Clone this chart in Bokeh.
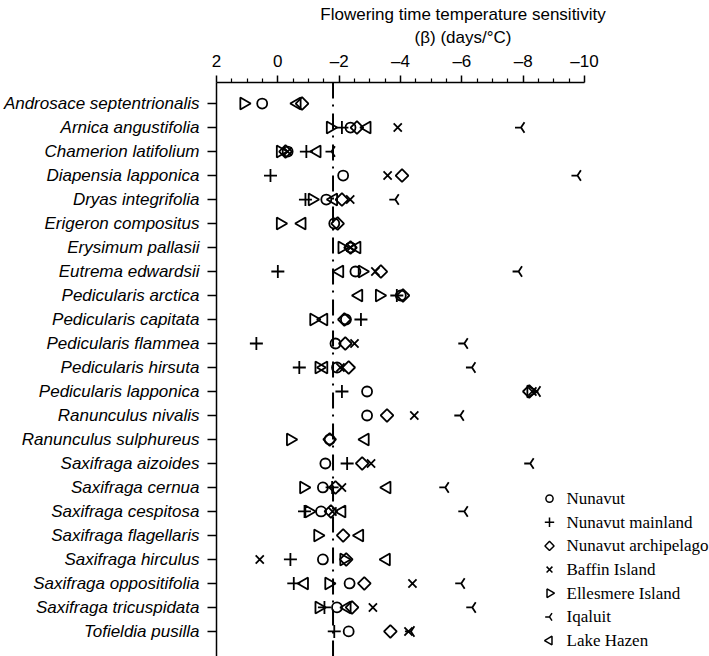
import math
from bokeh.plotting import figure
from bokeh.models import (Range1d, FixedTicker, Span, LinearAxis, ColumnDataSource)
from bokeh.core.properties import value
from bokeh.embed import file_html
from bokeh.resources import INLINE

nan = float("nan")

species = [
    "Androsace septentrionalis", "Arnica angustifolia", "Chamerion latifolium",
    "Diapensia lapponica", "Dryas integrifolia", "Erigeron compositus",
    "Erysimum pallasii", "Eutrema edwardsii", "Pedicularis arctica",
    "Pedicularis capitata", "Pedicularis flammea", "Pedicularis hirsuta",
    "Pedicularis lapponica", "Ranunculus nivalis", "Ranunculus sulphureus",
    "Saxifraga aizoides", "Saxifraga cernua", "Saxifraga cespitosa",
    "Saxifraga flagellaris", "Saxifraga hirculus", "Saxifraga oppositifolia",
    "Saxifraga tricuspidata", "Tofieldia pusilla",
]

nunavut = [0.51, -2.37, -0.32, -2.13, -1.58, -1.84, -2.37, -2.53, -4.01, -2.22,
           -1.88, -1.93, -2.91, -2.91, -1.69, -1.55, -1.47, -1.41, nan, -1.47,
           -2.34, -1.93, -2.31]
mainland = [nan, -2.09, -0.93, 0.24, -0.90, nan, nan, 0.00, -3.88, -2.71,
            0.70, -0.70, -2.09, nan, nan, -2.26, -1.77, -0.87, nan, -0.41,
            -0.52, -1.52, -1.84]
archipelago = [-0.79, -2.58, -0.25, -4.05, -2.09, -1.95, -2.37, -3.36, -4.08, -2.17,
               -2.20, -2.31, -8.20, -3.56, -1.69, -2.75, -1.88, -1.73, -2.13, -2.23,
               -2.82, -2.42, -3.67]
baffin = [nan, -3.91, -0.32, -3.58, -2.36, nan, -2.37, -3.18, nan, nan,
          -2.50, -2.04, -8.30, -4.45, nan, -3.04, -2.09, -1.78, nan, 0.59,
          -4.39, -3.10, -4.26]
ellesmere = [1.11, -1.71, -0.08, nan, -1.12, -0.08, -2.09, -2.75, -3.31, -1.17,
             nan, -1.34, -8.25, nan, -0.41, nan, -0.84, -1.01, -1.30, -2.15,
             -1.66, -1.34, nan]
iqaluit = [nan, -7.93, -1.75, -9.77, -3.83, nan, nan, -7.85, nan, nan,
           -6.08, -6.33, -8.45, -5.95, nan, -8.23, -5.46, -6.08, nan, nan,
           -5.98, -6.34, -4.34]
lake_hazen = [-0.63, -2.91, -1.28, nan, -1.82, -0.79, -2.58, -2.02, -2.64, -1.50,
              nan, -1.50, nan, nan, -2.85, nan, -3.56, -2.09, -2.67, -3.54,
              -0.87, -2.26, nan]

mean_sensitivity = -1.8

x_major = [2, 0, -2, -4, -6, -8, -10]
x_labels = ["2", "0", "\u20132", "\u20134", "\u20136", "\u20138", "\u201310"]

series_names = ["Nunavut", "Nunavut mainland", "Nunavut archipelago", "Baffin Island",
                "Ellesmere Island", "Iqaluit", "Lake Hazen"]
series_values = [nunavut, mainland, archipelago, baffin, ellesmere, iqaluit, lake_hazen]

# marker styles (shape, rotation, size)
styles = [
    ("circle", 0.0, 10),
    ("cross", 0.0, 13),
    ("square", math.pi / 4, 9),
    ("x", 0.0, 11.5),
    ("triangle", -math.pi / 2, 12),
    ("y", -math.pi / 2, 12),
    ("triangle", math.pi / 2, 12),
]

n = len(species)
ypos = [n - 1 - i for i in range(n)]

p = figure(width=709, height=656, output_backend="svg", toolbar_location=None,
           x_range=Range1d(2, -14.076), y_range=Range1d(-1.044, 22.877),
           x_axis_type=None, y_axis_type=None,
           min_border_left=216, min_border_right=0, min_border_top=82,
           min_border_bottom=0)
p.grid.visible = False
p.outline_line_color = None
p.background_fill_color = "white"
p.border_fill_color = "white"

xaxis = LinearAxis(
    ticker=FixedTicker(ticks=x_major,
                       minor_ticks=[v / 2 for v in range(3, -20, -1) if v % 4 != 0]),
    major_label_overrides={t: l for t, l in zip(x_major, x_labels)},
    axis_label="Flowering time temperature sensitivity\n(\u03b2) (days/\u00b0C)",
)
xaxis.bounds = (-10, 2)
xaxis.major_tick_in = 0
xaxis.major_tick_out = 7
xaxis.minor_tick_in = 0
xaxis.minor_tick_out = 4
xaxis.axis_line_width = 1.5
xaxis.major_tick_line_width = 1.5
xaxis.minor_tick_line_width = 1.2
xaxis.major_label_text_font = "Liberation Sans"
xaxis.major_label_text_font_size = "17px"
xaxis.major_label_text_color = "black"
xaxis.major_label_standoff = 5
xaxis.axis_label_text_font = "Liberation Sans"
xaxis.axis_label_text_font_style = "normal"
xaxis.axis_label_text_font_size = "17px"
xaxis.axis_label_text_color = "black"
xaxis.axis_label_standoff = 2
xaxis.axis_label_text_line_height = 1.2
p.add_layout(xaxis, "above")

yaxis = LinearAxis(
    ticker=FixedTicker(ticks=ypos, minor_ticks=[]),
    major_label_overrides={y: s for y, s in zip(ypos, species)},
)
yaxis.major_tick_in = 0
yaxis.major_tick_out = 9
yaxis.minor_tick_out = 0
yaxis.axis_line_width = 1.5
yaxis.major_tick_line_width = 1.5
yaxis.major_label_text_font = "Liberation Sans"
yaxis.major_label_text_font_style = "italic"
yaxis.major_label_text_font_size = "17px"
yaxis.major_label_text_color = "black"
yaxis.major_label_standoff = 8
p.add_layout(yaxis, "left")

p.add_layout(Span(location=mean_sensitivity, dimension="height", line_color="black",
                  line_width=2, line_dash="16 6 2 7"))

for name, vals, (marker, ang, size) in zip(series_names, series_values, styles):
    src = ColumnDataSource(dict(x=vals, y=ypos))
    p.scatter("x", "y", source=src, marker=marker, angle=ang, size=size,
              line_color="black", line_width=1.8, fill_alpha=0)

# key (legend): rows indexed 0..6, placed with its own ranges
p.extra_x_ranges = {"key": Range1d(-333, 160)}
p.extra_y_ranges = {"key": Range1d(6.675, -17.59)}
key_rows = list(range(len(series_names)))
key_src = ColumnDataSource(dict(
    x=[0] * len(series_names), y=key_rows, name=series_names,
    marker=[s[0] for s in styles], angle=[s[1] for s in styles],
    size=[s[2] * 0.72 for s in styles],
))
p.scatter("x", "y", source=key_src, marker="marker", angle="angle", size="size",
          line_color="black", line_width=1.5, fill_alpha=0,
          x_range_name="key", y_range_name="key")
p.text("x", "y", text="name", source=key_src, x_offset=17,
       text_baseline="middle", text_align="left",
       text_font=value("Liberation Serif"), text_font_size="17px",
       text_color="black", x_range_name="key", y_range_name="key")

open("out.html", "w").write(file_html(p, INLINE))
